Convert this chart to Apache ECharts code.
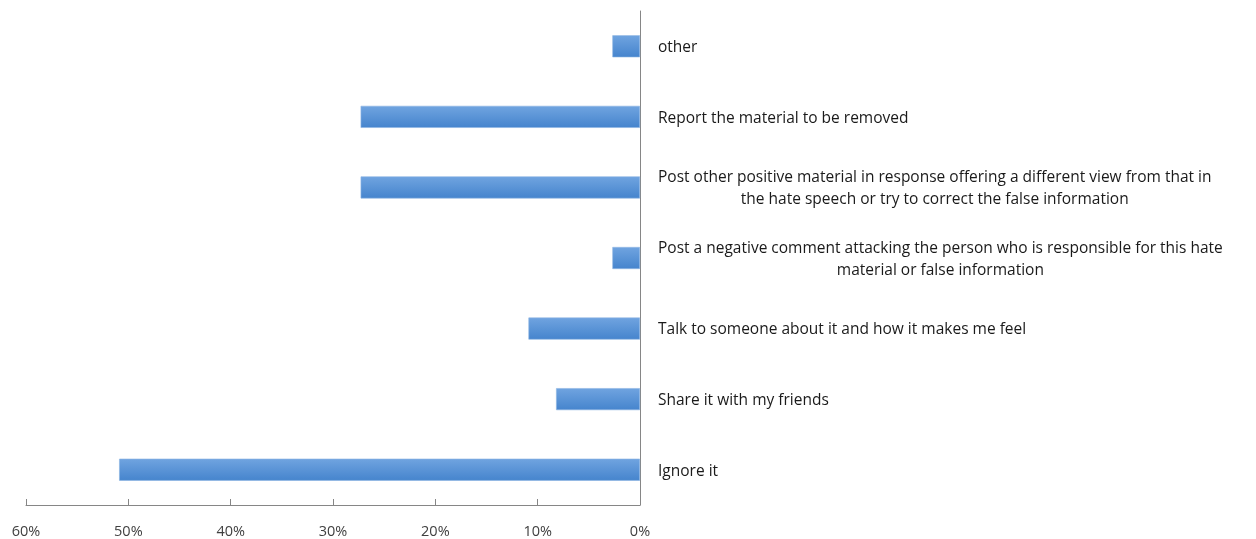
<!DOCTYPE html>
<html>
<head>
<meta charset="utf-8">
<script src="https://cdn.jsdelivr.net/npm/echarts@6/dist/echarts.min.js"></script>
<style>
  html, body { margin: 0; padding: 0; background: #ffffff; }
  #chart { width: 1256px; height: 539px; }
</style>
</head>
<body>
<div id="chart"></div>
<script>
// Responses, listed from the bottom of the chart to the top
const categories = [
  'Ignore it',
  'Share it with my friends',
  'Talk to someone about it and how it makes me feel',
  'Post a negative comment attacking the person who is responsible for this hate\nmaterial or false information',
  'Post other positive material in response offering a different view from that in\nthe hate speech or try to correct the false information',
  'Report the material to be removed',
  'other'
];
// Share of respondents (%)
const shares = [50.9, 8.2, 10.9, 2.7, 27.3, 27.3, 2.7];

const labelFont = 'Open Sans';
const chart = echarts.init(document.getElementById('chart'));

chart.setOption({
  backgroundColor: '#ffffff',
  animation: false,
  grid: { left: 26, right: 616, top: 11, bottom: 33, containLabel: false },
  xAxis: {
    type: 'value',
    inverse: true,
    min: 0,
    max: 60,
    interval: 10,
    axisLine: { show: true, lineStyle: { color: '#868686', width: 1 } },
    axisTick: { show: true, inside: true, length: 6, lineStyle: { color: '#868686' } },
    splitLine: { show: false },
    axisLabel: {
      formatter: '{value}%',
      color: '#404040',
      fontFamily: labelFont,
      fontSize: 14.5,
      margin: 19
    }
  },
  yAxis: {
    type: 'category',
    position: 'right',
    data: categories,
    axisLine: { show: true, lineStyle: { color: '#868686', width: 1 } },
    axisTick: { show: false },
    splitLine: { show: false },
    axisLabel: {
      align: 'left',
      margin: 18,
      padding: [3, 0, 0, 0],
      color: '#1a1a1a',
      fontFamily: labelFont,
      fontSize: 15.5,
      lineHeight: 22,
      formatter: function (value) {
        return value.split('\n').map(function (line) { return '{c|' + line + '}'; }).join('\n');
      },
      rich: {
        c: { align: 'center', color: '#1a1a1a', fontFamily: labelFont, fontSize: 15.5, lineHeight: 22 }
      }
    }
  },
  series: [{
    type: 'bar',
    data: shares,
    barWidth: 22,
    itemStyle: {
      color: new echarts.graphic.LinearGradient(0, 0, 0, 1, [
        { offset: 0, color: '#70a4e0' },
        { offset: 1, color: '#4584cd' }
      ]),
      borderColor: '#8bb3e3',
      borderWidth: 0.6
    }
  }]
});
</script>
</body>
</html>
